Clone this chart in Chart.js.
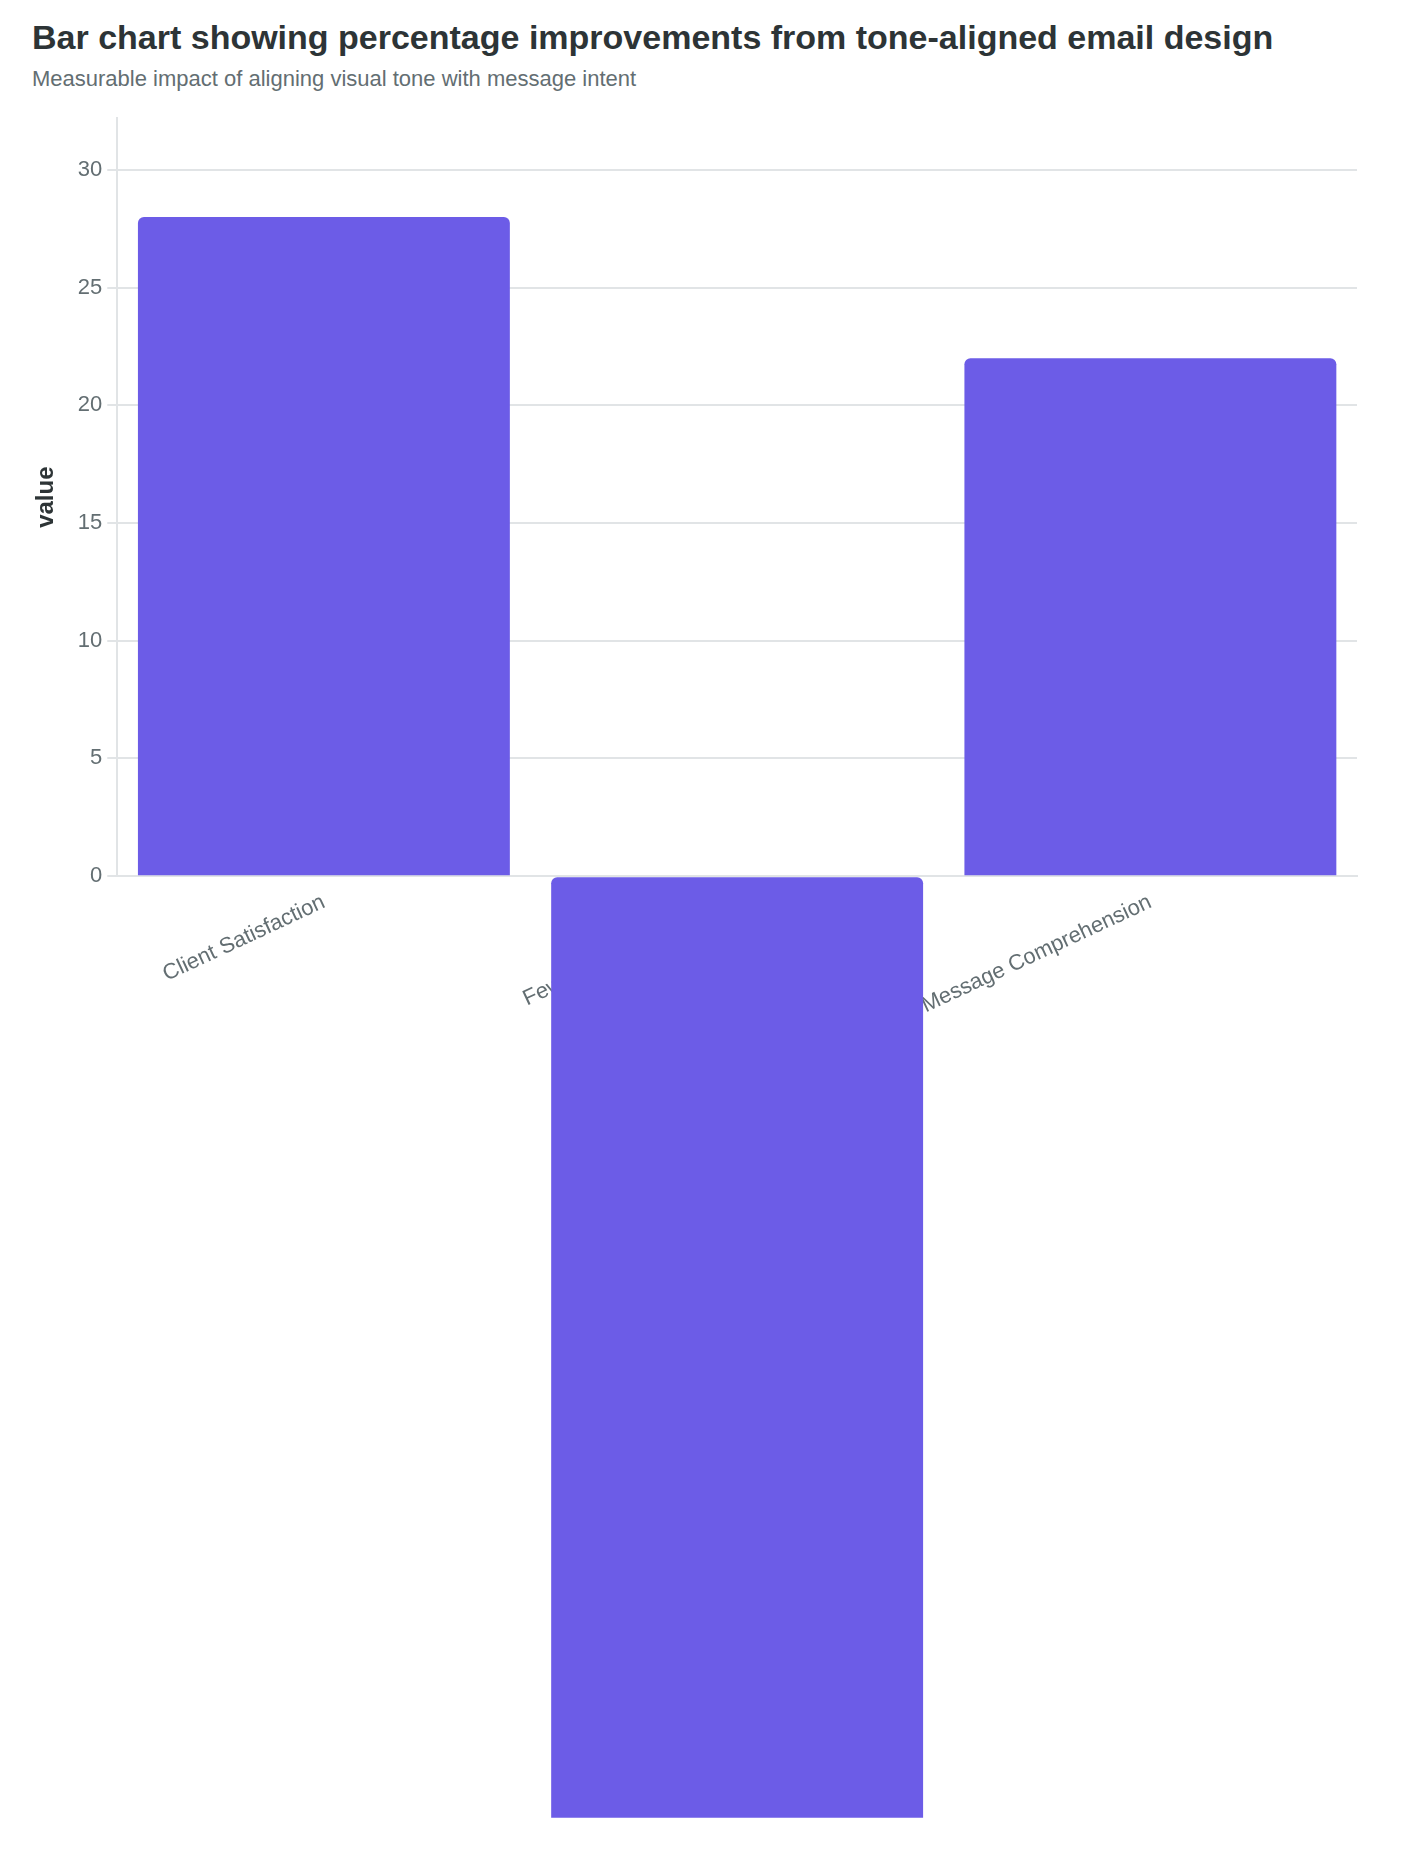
<!DOCTYPE html>
<html>
<head>
<meta charset="utf-8">
<script src="https://cdn.jsdelivr.net/npm/chart.js@4.4.1/dist/chart.umd.min.js"></script>
<style>
  html, body { margin: 0; padding: 0; background: #ffffff; }
  body { font-family: "Liberation Sans", Arial, sans-serif; width: 1406px; height: 1852px; position: relative; overflow: hidden; }
  h1 { position: absolute; left: 32px; top: 17px; margin: 0; font-size: 34px; line-height: 40px; font-weight: bold; color: #2d3436; }
  .sub { position: absolute; left: 32px; top: 66px; margin: 0; font-size: 22px; line-height: 26px; color: #636e72; }
  .wrap { position: absolute; left: 32px; top: 100px; width: 1342px; height: 1752px; }
</style>
</head>
<body>
<h1>Bar chart showing percentage improvements from tone-aligned email design</h1>
<p class="sub">Measurable impact of aligning visual tone with message intent</p>
<div class="wrap"><canvas id="ResultData"></canvas></div>
<script>
const categories = ["Client Satisfaction", "Fewer Follow-up Emails", "Message Comprehension"];
const values = [28, -40, 22];
const tickValues = [0, 5, 10, 15, 20, 25, 30];

const ItemChart = document.getElementById("ResultData");

new Chart(ItemChart, {
    type: "bar",
    data: {
        labels: categories,
        datasets: [
            {
                label: "value",
                data: values,
                backgroundColor: "#6c5ce7",
                borderWidth: 0,
                borderSkipped: false,
                borderRadius: { topLeft: 6, topRight: 6, bottomLeft: 0, bottomRight: 0 },
                barPercentage: 0.9,
                categoryPercentage: 1.0,
                clip: false,
            },
        ],
    },
    options: {
        responsive: true,
        maintainAspectRatio: false,
        animation: false,
        layout: {
            padding: { top: 3, right: 17, bottom: 830, left: 0 },
        },
        plugins: {
            legend: { display: false },
            tooltip: { enabled: false },
        },
        scales: {
            x: {
                grid: { display: false, tickLength: 10 },
                border: { color: "#e1e4e6", width: 2 },
                ticks: {
                    color: "#636e72",
                    font: { size: 22, family: "Liberation Sans" },
                    minRotation: 25,
                    maxRotation: 25,
                    padding: 3,
                },
            },
            y: {
                min: 0,
                max: 32.2,
                afterBuildTicks: (axis) => {
                    axis.ticks = tickValues.map((v) => ({ value: v }));
                },
                grid: { color: "#e1e4e6", lineWidth: 2, tickLength: 10 },
                border: { color: "#e1e4e6", width: 2 },
                ticks: {
                    color: "#636e72",
                    font: { size: 22, family: "Liberation Sans" },
                    padding: 5,
                },
                title: {
                    display: true,
                    text: "value",
                    color: "#2d3436",
                    font: { size: 24, weight: "bold", family: "Liberation Sans" },
                    padding: { top: 0, bottom: 12 },
                },
            },
        },
    },
});
</script>
</body>
</html>
